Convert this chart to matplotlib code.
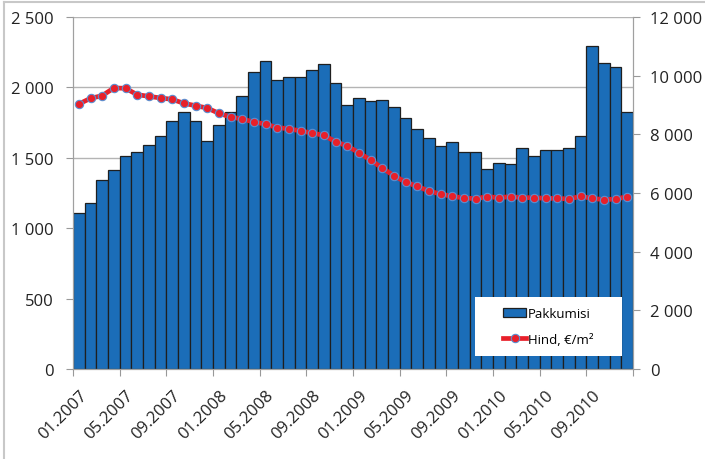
import matplotlib
matplotlib.use("Agg")
import matplotlib.pyplot as plt
from matplotlib.patches import Rectangle
from matplotlib.lines import Line2D
from matplotlib.ticker import FuncFormatter
import numpy as np

months = [f"{m:02d}.{y}" for y in range(2007, 2011) for m in range(1, 13)]

pakkumisi = [1110, 1181, 1345, 1411, 1510, 1541, 1593, 1657, 1764, 1823, 1764, 1619,
             1735, 1828, 1937, 2107, 2185, 2055, 2071, 2076, 2124, 2164, 2029, 1873,
             1927, 1903, 1911, 1863, 1783, 1705, 1638, 1584, 1612, 1539, 1539, 1418,
             1463, 1458, 1570, 1513, 1558, 1558, 1567, 1657, 2294, 2171, 2143, 1825]

hind = [9034, 9228, 9318, 9580, 9570, 9352, 9296, 9239, 9193, 9057, 8977, 8898,
        8716, 8591, 8523, 8420, 8352, 8227, 8193, 8114, 8045, 7966, 7750, 7602,
        7375, 7125, 6852, 6591, 6375, 6227, 6068, 5966, 5886, 5830, 5807, 5875,
        5841, 5875, 5841, 5841, 5818, 5818, 5795, 5886, 5818, 5773, 5795, 5875]

left_ticks = [0, 500, 1000, 1500, 2000, 2500]
right_ticks = [0, 2000, 4000, 6000, 8000, 10000, 12000]
label_every = 4

plt.rcParams['font.family'] = ['Open Sans', 'DejaVu Sans']

W, H = 705, 460
fig = plt.figure(figsize=(W/100, H/100), dpi=100)
# outer chart border (top and left visible)
fig.add_artist(Line2D([4/W, 1], [1-3/H, 1-3/H], transform=fig.transFigure,
                      color='#c8c8c8', linewidth=1.5))
fig.add_artist(Line2D([4/W, 4/W], [0, 1-3/H], transform=fig.transFigure,
                      color='#c8c8c8', linewidth=1.5))

ax = fig.add_axes([73/W, 1-370/H, (633-73)/W, (370-18)/H])
x = np.arange(len(months))
ax.bar(x, pakkumisi, width=1.0, color='#1b6db8', edgecolor='#1f1f1f', linewidth=0.9,
       label='Pakkumisi', zorder=2)
ax.set_xlim(-0.5, len(months)-0.5)
ax.set_ylim(0, 2500)
ax.set_yticks(left_ticks)
fmt = FuncFormatter(lambda v, p: f"{int(v):,}".replace(",", " "))
ax.yaxis.set_major_formatter(fmt)
ax.grid(axis='y', color='#b4b4b4', linewidth=1.0, zorder=0)
ax.set_axisbelow(True)

ax.set_xticks(np.arange(-0.5, len(months), label_every))
ax.set_xticklabels([])
ax.set_xticks(x[::label_every], minor=True)
ax.set_xticklabels(months[::label_every], minor=True, rotation=45, ha='right',
                   rotation_mode='anchor', fontsize=12, color='#222222')
ax.tick_params(axis='x', which='minor', length=0, pad=13)
ax.tick_params(axis='x', which='major', length=5, color='#999999')
ax.tick_params(axis='y', length=5, color='#999999', labelsize=12, pad=9,
               labelcolor='#222222')
ax.spines['top'].set_visible(False)
for s in ['left', 'right', 'bottom']:
    ax.spines[s].set_color('#a0a0a0')

ax2 = ax.twinx()
ax2.plot(x, hind, color='#e8202a', linewidth=3.4, marker='o', markersize=6,
         markerfacecolor='#e8202a', markeredgecolor='#5b8fd0', markeredgewidth=0.8,
         label='Hind, €/m²', zorder=3)
ax2.set_ylim(0, 12000)
ax2.set_yticks(right_ticks)
ax2.yaxis.set_major_formatter(fmt)
ax2.tick_params(axis='y', length=5, color='#999999', labelsize=12, pad=7,
                labelcolor='#222222')
ax2.spines['top'].set_visible(False)
for s in ['left', 'right', 'bottom']:
    ax2.spines[s].set_color('#a0a0a0')

# legend box
bx0, bx1, by0, by1 = 475, 622, 298, 357
def ax_coords(px, py):
    return (px-73)/560, (370-py)/352
lx0, ly0 = ax_coords(bx0, by1)
lx1, ly1 = ax_coords(bx1, by0)
ax2.add_patch(Rectangle((lx0, ly0), lx1-lx0, ly1-ly0, transform=ax2.transAxes,
                        facecolor='white', edgecolor='none', zorder=4))
h1, l1 = ax.get_legend_handles_labels()
h2, l2 = ax2.get_legend_handles_labels()
leg = ax2.legend(h1 + h2, l1 + l2, loc='center',
                 bbox_to_anchor=((lx0+lx1)/2, (ly0+ly1)/2),
                 frameon=False, fontsize=9.5, handlelength=1.7, handletextpad=0.15,
                 borderpad=0, borderaxespad=0, labelspacing=1.0, numpoints=1)
leg.set_zorder(5)

fig.savefig("out.png", dpi=100)
